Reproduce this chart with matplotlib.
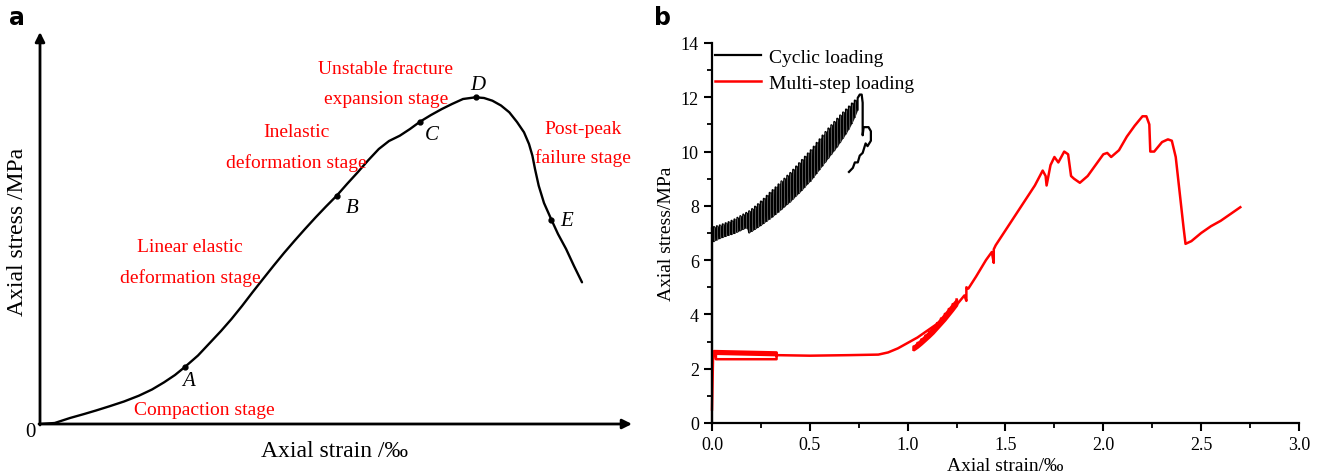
import numpy as np
import matplotlib
matplotlib.use("Agg")
from matplotlib import pyplot as plt

plt.rcParams['font.family'] = ['Liberation Serif', 'DejaVu Serif']

# ---- panel a: schematic stress-strain curve (arbitrary units) ----
curve_x = [0, 14.7, 30, 44.2, 56, 69.4, 84, 98.9, 112, 124.1, 135, 145.2, 158, 170.4,
           181, 191.5, 202, 212.5, 223, 233.6, 244, 254.6, 265, 275.7, 286, 296.7,
           307, 317.7, 328, 338.8, 349, 359.8, 370, 380, 391, 401.9, 412, 423, 435.6,
           444, 452.4, 461, 469.3, 477, 484, 489, 492.4, 495, 498.7, 504, 511.4,
           518, 526.1, 534, 542]
curve_y = [0, 1, 6, 10, 13.5, 17.7, 22.5, 28.3, 34.5, 41.7, 49, 57.3, 68.5, 81.7,
           93, 105, 118, 131.7, 145, 158.3, 171, 183.3, 195, 206.7, 217.5, 228.3,
           240, 251.7, 263.5, 275, 283, 288.3, 295, 302.3, 309, 315, 320, 325, 326.7,
           326, 323.3, 318.5, 311.7, 302, 291.7, 280, 268.3, 255, 238.3, 221, 204.3,
           190, 175, 158, 141.7]
key_x = [145.2, 296.7, 380, 435.6, 511.4]
key_y = [57.3, 228.3, 302.3, 326.7, 204.3]
key_names = ['A', 'B', 'C', 'D', 'E']
key_label_pos = [(149, 43), (312, 216), (392, 289), (438, 339), (527, 203)]

stage_labels = ['Unstable fracture', 'expansion stage', 'Inelastic', 'deformation stage',
                'Linear elastic', 'deformation stage', 'Compaction stage',
                'Post-peak', 'failure stage']
stage_pos = [(346, 355), (346, 325), (256, 292), (256, 262), (150, 177), (150, 147),
             (164, 14), (543, 295), (543, 267)]

# ---- panel b: cyclic loading (each cycle: strain, peak, valley) ----
cyc_strain = [0.010, 0.025, 0.040, 0.055, 0.070, 0.085, 0.100, 0.115, 0.130, 0.145,
              0.160, 0.175, 0.190, 0.205, 0.220, 0.235, 0.250, 0.265, 0.280, 0.295,
              0.310, 0.325, 0.340, 0.355, 0.370, 0.385, 0.400, 0.415, 0.430, 0.445,
              0.460, 0.475, 0.490, 0.505, 0.520, 0.535, 0.550, 0.565, 0.580, 0.595,
              0.610, 0.625, 0.640, 0.655, 0.670, 0.685, 0.700, 0.715, 0.730, 0.745]
cyc_peak = [7.22, 7.25, 7.28, 7.32, 7.36, 7.40, 7.45, 7.50, 7.56, 7.62,
            7.68, 7.74, 7.80, 7.88, 7.97, 8.06, 8.16, 8.26, 8.37, 8.48,
            8.58, 8.68, 8.79, 8.90, 9.00, 9.11, 9.21, 9.33, 9.45, 9.57,
            9.69, 9.81, 9.93, 10.05, 10.18, 10.32, 10.45, 10.59, 10.72, 10.85,
            10.97, 11.09, 11.21, 11.33, 11.44, 11.55, 11.66, 11.77, 11.88, 11.98]
cyc_valley = [6.70, 6.76, 6.81, 6.85, 6.89, 6.93, 6.96, 7.00, 7.05, 7.10,
              7.15, 7.20, 7.02, 7.08, 7.15, 7.22, 7.29, 7.37, 7.45, 7.53,
              7.61, 7.70, 7.79, 7.88, 7.98, 8.07, 8.16, 8.27, 8.38, 8.48,
              8.59, 8.71, 8.83, 8.93, 9.07, 9.21, 9.35, 9.49, 9.63, 9.77,
              9.91, 10.05, 10.19, 10.35, 10.51, 10.67, 10.85, 11.05, 11.28, 11.55]
cyc_post_strain = [0.745, 0.755, 0.765, 0.770, 0.770, 0.775, 0.800, 0.812, 0.812,
                   0.795, 0.785, 0.770, 0.755, 0.745, 0.730, 0.720, 0.700]
cyc_post_stress = [11.98, 12.10, 12.10, 11.80, 10.60, 10.90, 10.90, 10.75, 10.40,
                   10.20, 10.30, 9.95, 9.85, 9.60, 9.60, 9.40, 9.25]

# ---- panel b: multi-step loading ----
ms_strain = [0.0, 0.005, 0.010, 0.33, 0.33, 0.02, 0.02, 0.33, 0.5, 0.7, 0.85, 0.9,
             0.95, 1.0, 1.05, 1.1, 1.15, 1.2, 1.25, 1.29, 1.30, 1.30, 1.31, 1.35,
             1.4, 1.43, 1.44, 1.44, 1.45, 1.5, 1.55, 1.6, 1.65, 1.69, 1.705, 1.71,
             1.73, 1.75, 1.77, 1.80, 1.82, 1.835, 1.85, 1.88, 1.92, 1.96, 2.0, 2.02,
             2.04, 2.08, 2.12, 2.16, 2.20, 2.22, 2.235, 2.24, 2.26, 2.30, 2.33,
             2.35, 2.37, 2.39, 2.41, 2.42, 2.45, 2.5, 2.55, 2.6, 2.65, 2.7]
ms_stress = [0.5, 2.3, 2.65, 2.60, 2.35, 2.35, 2.55, 2.50, 2.48, 2.50, 2.52, 2.6,
             2.75, 2.95, 3.15, 3.4, 3.65, 3.95, 4.35, 4.7, 4.5, 5.0, 4.95, 5.4,
             6.0, 6.3, 5.9, 6.4, 6.55, 7.1, 7.65, 8.2, 8.75, 9.3, 9.1, 8.75,
             9.5, 9.8, 9.6, 10.0, 9.9, 9.1, 9.0, 8.85, 9.1, 9.5, 9.9, 9.95,
             9.8, 10.05, 10.55, 10.95, 11.3, 11.3, 11.0, 10.0, 10.0, 10.35, 10.45,
             10.4, 9.8, 8.5, 7.2, 6.6, 6.7, 7.0, 7.25, 7.45, 7.7, 7.95]
# early small loops at the first load step
ms_step_strain = [0.02, 0.33]
ms_step_stress = [2.58, 2.56]
# unloading/reloading loops near 1.0-1.25
loop_strain = [1.03, 1.05, 1.07, 1.09, 1.11, 1.13, 1.15, 1.17, 1.19, 1.21, 1.23, 1.25]
loop_low = [2.70, 2.80, 2.92, 3.05, 3.18, 3.32, 3.48, 3.64, 3.80, 3.98, 4.16, 4.35]
loop_high = [2.82, 2.95, 3.08, 3.22, 3.36, 3.52, 3.68, 3.85, 4.02, 4.20, 4.38, 4.55]

fig = plt.figure(figsize=(13.24, 4.77), dpi=100)

# ================= panel a =================
ax_a = fig.add_axes([40 / 1324, 1 - 425 / 477, 590 / 1324, 390 / 477])
ax_a.set_xlim(0, 590)
ax_a.set_ylim(0, 390)
ax_a.axis('off')
arrow = dict(arrowstyle='-|>', lw=2, color='k', mutation_scale=14, shrinkA=0, shrinkB=0)
ax_a.annotate('', xy=(592, 0), xytext=(-1, 0), arrowprops=arrow, annotation_clip=False)
ax_a.annotate('', xy=(0, 392), xytext=(0, -1), arrowprops=arrow, annotation_clip=False)
ax_a.plot(curve_x, curve_y, color='k', lw=1.7, solid_capstyle='round')
ax_a.plot(key_x, key_y, 'o', color='k', ms=3.5)
for name, (tx, ty) in zip(key_names, key_label_pos):
    ax_a.text(tx, ty, name, fontsize=15, style='italic', ha='center', va='center')
for lab, (tx, ty) in zip(stage_labels, stage_pos):
    ax_a.text(tx, ty, lab, fontsize=14, color='#ff0000', ha='center', va='center')
ax_a.text(-10, -8, '0', fontsize=15, ha='center', va='center', clip_on=False)
fig.text(335 / 1324, 1 - 452 / 477, 'Axial strain /\u2030', fontsize=17, ha='center', va='center')
fig.text(18 / 1324, 1 - 232 / 477, 'Axial stress /MPa', fontsize=17, ha='center', va='center',
         rotation=90)
fig.text(17 / 1324, 1 - 18 / 477, 'a', fontsize=17, fontweight='bold', family='DejaVu Sans',
         ha='center', va='center')

# ================= panel b =================
ax_b = fig.add_axes([712 / 1324, 1 - 424 / 477, 587 / 1324, 380 / 477])
cx = np.repeat(cyc_strain, 2)
cy = np.column_stack([cyc_valley, cyc_peak]).ravel()
ax_b.fill_between(cyc_strain, cyc_valley, cyc_peak, color='#1c1c1c', lw=0)
ax_b.plot([0, 0] + list(cx) + cyc_post_strain[1:],
          [0, 7.2] + list(cy) + cyc_post_stress[1:],
          color='k', lw=1.6, label='Cyclic loading', clip_on=False)
ax_b.vlines(cyc_strain, cyc_valley, cyc_peak, color='#777777', lw=0.5)

ax_b.plot(ms_strain, ms_stress, color='#ff0000', lw=1.8, label='Multi-step loading',
          clip_on=False)
ax_b.plot(ms_step_strain, ms_step_stress, color='#ff0000', lw=1.8)
ax_b.fill_between(loop_strain, loop_low, loop_high, color='#ff0000', lw=1.8)
lx = np.repeat(loop_strain, 2)
ly = np.column_stack([loop_low, loop_high]).ravel()
ax_b.plot(lx, ly, color='#ff0000', lw=1.8)

ax_b.set_xlim(0, 3)
ax_b.set_ylim(0, 14)
ax_b.set_xticks(np.arange(0, 3.01, 0.5))
ax_b.set_xticks(np.arange(0, 3.01, 0.25), minor=True)
ax_b.set_yticks(np.arange(0, 14.1, 2))
ax_b.set_yticks(np.arange(0, 14.1, 1), minor=True)
ax_b.set_xticklabels(['0.0', '0.5', '1.0', '1.5', '2.0', '2.5', '3.0'])
ax_b.spines['top'].set_visible(False)
ax_b.spines['right'].set_visible(False)
for s in ['left', 'bottom']:
    ax_b.spines[s].set_linewidth(1.6)
ax_b.tick_params(which='major', direction='out', length=6, width=1.5, labelsize=13)
ax_b.tick_params(which='minor', direction='out', length=3.5, width=1.3)
ax_b.set_xlabel('Axial strain/\u2030', fontsize=14, labelpad=3)
ax_b.set_ylabel('Axial stress/MPa', fontsize=14, labelpad=4)
ax_b.legend(loc='upper left', bbox_to_anchor=(-0.012, 1.012), frameon=False, fontsize=14,
            handlelength=2.4, handletextpad=0.4, borderaxespad=0.1, labelspacing=0.45)
fig.text(663 / 1324, 1 - 18 / 477, 'b', fontsize=17, fontweight='bold', family='DejaVu Sans',
         ha='center', va='center')

fig.savefig('out.png', dpi=100)
